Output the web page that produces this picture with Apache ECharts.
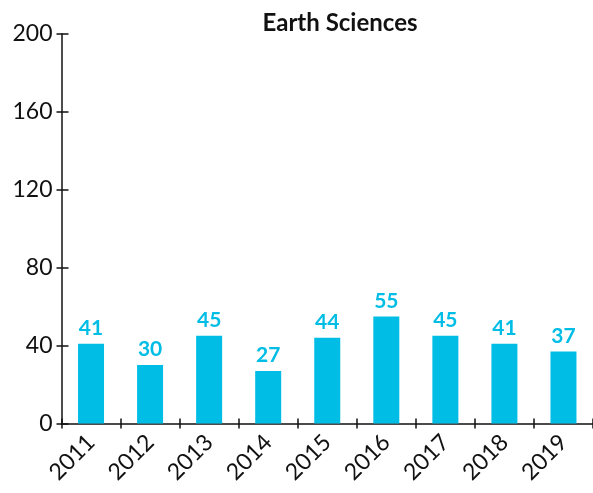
<!DOCTYPE html>
<html>
<head>
<meta charset="utf-8">
<script src="https://cdn.jsdelivr.net/npm/echarts@6/dist/echarts.min.js"></script>
<style>
html,body{margin:0;padding:0;background:#fff;}
#chart{width:593px;height:493px;}
</style>
</head>
<body>
<div id="chart"></div>
<script>
const titleText = "Earth Sciences";
const categories = ["2011","2012","2013","2014","2015","2016","2017","2018","2019"];
const values = [41, 30, 45, 27, 44, 55, 45, 41, 37];
const yMin = 0, yMax = 200, yInterval = 40;

const FONT = "Lato";
const CYAN = "#00BDE6";
const INK = "#111111";

const chart = echarts.init(document.getElementById('chart'), null, {renderer:'canvas'});
chart.setOption({
  animation:false,
  backgroundColor:'#ffffff',
  title:{
    text:titleText, left:335, top:6, textAlign:'center',
    textStyle:{fontFamily:FONT, fontWeight:'bold', fontSize:24, color:INK}
  },
  grid:{left:61.5, right:-5, top:34, bottom:69.5, containLabel:false},
  xAxis:[{
    type:'category', data:categories, boundaryGap:true,
    axisLine:{lineStyle:{color:INK, width:1.5}},
    axisTick:{show:true, inside:false, length:5, lineStyle:{color:INK, width:1.5}},
    axisLabel:{rotate:45, fontFamily:FONT, fontSize:23, color:INK, margin:15, interval:0}
  },{
    type:'category', data:categories, boundaryGap:true, position:'bottom',
    axisLine:{show:false},
    axisTick:{show:true, inside:true, length:5, lineStyle:{color:INK, width:1.5}},
    axisLabel:{show:false}
  }],
  yAxis:[{
    type:'value', min:yMin, max:yMax, interval:yInterval,
    splitLine:{show:false},
    axisLine:{show:true, lineStyle:{color:INK, width:1.5}},
    axisTick:{show:true, inside:false, length:5, lineStyle:{color:INK, width:1.5}},
    axisLabel:{fontFamily:FONT, fontSize:23, color:INK, margin:9}
  },{
    type:'value', min:yMin, max:yMax, interval:yInterval, position:'left',
    splitLine:{show:false},
    axisLine:{show:false},
    axisTick:{show:true, inside:true, length:7, lineStyle:{color:INK, width:1.5}},
    axisLabel:{show:false}
  }],
  series:[{
    type:'bar', data:values, xAxisIndex:0, yAxisIndex:0,
    barWidth:26,
    itemStyle:{color:CYAN},
    label:{show:true, position:'top', distance:5, fontFamily:FONT, fontWeight:'bold', fontSize:21, color:CYAN}
  }]
});
</script>
</body>
</html>
